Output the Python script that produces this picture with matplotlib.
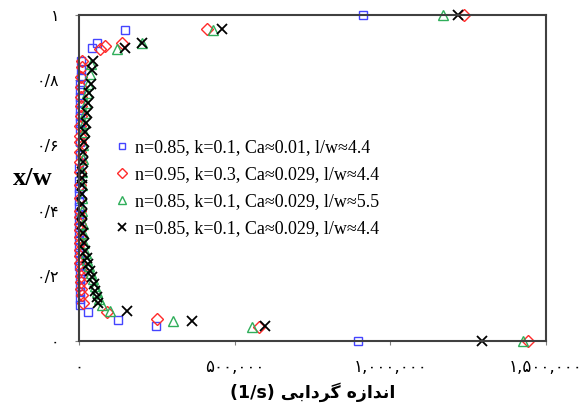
import numpy as np
import matplotlib
matplotlib.use('Agg')
import matplotlib.pyplot as plt
from matplotlib.lines import Line2D

# vortex size (1/s) vs x/w for four cases
blueX = [896000, 247000, 125000, 29000, 4000, 3000, 2500, 2000, 2500, 2000, 1500, 2000, 1500, 1500,
         1000, 1500, 1000, 1000, 1500, 1000, 1000, 1500, 1000, 1500, 1500, 2000, 2000, 2500, 2500,
         3000, 3000, 3500, 4000, 4000, 4500, 5000, 5000, 6000, 41700, 57800, 147750, 912000]
blueY = [0.0, 0.046, 0.064, 0.089, 0.11, 0.13, 0.15, 0.17, 0.19, 0.21, 0.23, 0.25, 0.27, 0.29,
         0.31, 0.33, 0.35, 0.37, 0.39, 0.41, 0.43, 0.45, 0.47, 0.49, 0.53, 0.57, 0.61, 0.65, 0.67,
         0.69, 0.71, 0.73, 0.75, 0.77, 0.79, 0.81, 0.83, 0.86, 0.90, 0.914, 0.954, 1.0]

redX = [1442000, 578000, 250000, 90000, 13000, 9000, 8000, 6500, 5500, 5000, 4500, 4000, 3500, 3500,
        3000, 3000, 3000, 2500, 2500, 3000, 3000, 3000, 3500, 3500, 4000, 4000, 4500, 5000, 5500,
        6000, 6500, 7000, 9000, 9000, 67500, 83500, 138000, 411000, 1237000]
redY = [0.0, 0.043, 0.067, 0.089, 0.117, 0.14, 0.16, 0.18, 0.2, 0.22, 0.24, 0.26, 0.28, 0.3,
        0.32, 0.34, 0.36, 0.38, 0.4, 0.44, 0.48, 0.52, 0.55, 0.58, 0.61, 0.63, 0.66, 0.69, 0.72,
        0.75, 0.78, 0.81, 0.84, 0.86, 0.896, 0.905, 0.914, 0.957, 1.0]

greenX = [1426000, 556000, 302000, 100000, 73000, 64000, 58000, 51000, 45000, 38000, 32000, 26000,
          21000, 17000, 14000, 12000, 11000, 10000, 10000, 11000, 12000, 13000, 15000, 17000, 20000,
          23000, 26000, 30000, 34000, 38000, 122000, 202000, 430000, 1169000]
greenY = [0.0, 0.043, 0.061, 0.092, 0.11, 0.13, 0.15, 0.17, 0.19, 0.21, 0.23, 0.25, 0.27, 0.3,
          0.33, 0.36, 0.4, 0.44, 0.48, 0.52, 0.56, 0.6, 0.64, 0.67, 0.7, 0.73, 0.76, 0.79, 0.82,
          0.85, 0.896, 0.914, 0.954, 1.0]

blackX = [1294000, 597000, 363000, 154000, 61000, 58000, 53000, 48000, 42000, 36000, 30000, 25000,
          20000, 16000, 13000, 11000, 10000, 9000, 9000, 9500, 10000, 11000, 12000, 14000, 16000,
          19000, 22000, 25000, 29000, 33000, 38000, 42000, 45000, 148000, 202000, 459000, 1217000]
blackY = [0.0, 0.046, 0.061, 0.092, 0.117, 0.135, 0.155, 0.175, 0.195, 0.215, 0.235, 0.255, 0.275,
          0.3, 0.33, 0.36, 0.39, 0.42, 0.45, 0.48, 0.5, 0.52, 0.55, 0.58, 0.61, 0.64, 0.67, 0.7,
          0.73, 0.76, 0.79, 0.83, 0.86, 0.90, 0.914, 0.957, 1.0]

labels = ['n=0.85, k=0.1, Ca\u22480.01, l/w\u22484.4',
          'n=0.95, k=0.3, Ca\u22480.029, l/w\u22484.4',
          'n=0.85, k=0.1, Ca\u22480.029, l/w\u22485.5',
          'n=0.85, k=0.1, Ca\u22480.029, l/w\u22484.4']

xTicks = [0, 500000, 1000000, 1500000]
xTickLabels = ['\u06f0', '\u06f5\u06f0\u06f0,\u06f0\u06f0\u06f0',
               '\u06f1,\u06f0\u06f0\u06f0,\u06f0\u06f0\u06f0',
               '\u06f1,\u06f5\u06f0\u06f0,\u06f0\u06f0\u06f0']
yTicks = [0, 0.2, 0.4, 0.6, 0.8, 1.0]
yTickLabels = ['\u06f0', '\u06f0/\u06f2', '\u06f0/\u06f4', '\u06f0/\u06f6', '\u06f0/\u06f8', '\u06f1']

# Persian label in visual order with presentation forms (no shaping in matplotlib)
xLabel = '(1/s) \ufbfd\ufe91\ufe8d\ufea9\ufeae\ufb94 \ufee9\ufeaf\ufe8d\ufeaa\ufee7\ufe8d'

fig = plt.figure(figsize=(5.83, 4.07), dpi=100)
ax = fig.add_axes([0.1355, 0.162, 0.801, 0.801])

kw = dict(linestyle='none', markerfacecolor='none', markeredgewidth=1.0, clip_on=False)
ax.plot(blueX, blueY, marker='s', markersize=6, markeredgecolor='#4444ff', **kw)
ax.plot(redX, redY, marker='D', markersize=6, markeredgecolor='#ff2a2a', **kw)
ax.plot(greenX, greenY, marker='^', markersize=7, markeredgecolor='#2fae5a', **kw)
ax.plot(blackX, blackY, marker='x', markersize=6.5, color='black', markeredgewidth=1.3,
        linestyle='none', clip_on=False)

ax.set_xlim(0, 1500000)
ax.set_ylim(0, 1)
ax.set_xticks(xTicks)
ax.set_xticklabels(xTickLabels, fontsize=12, family='DejaVu Sans')
ax.set_yticks(yTicks)
ax.set_yticklabels(yTickLabels, fontsize=11.5, family='DejaVu Sans')
ax.tick_params(axis='both', direction='out', length=3, color='#808080')
ax.tick_params(axis='x', pad=9)
ax.tick_params(axis='y', pad=11)

for s in ax.spines.values():
    s.set_color('#404040')
    s.set_linewidth(1.5)

ax.set_xlabel(xLabel, fontsize=12.5, fontweight='bold', family='DejaVu Sans', labelpad=5)
ax.set_ylabel('x/w', fontsize=19, fontweight='bold', family='Liberation Serif', rotation=0,
              va='center', ha='center')
ax.yaxis.set_label_coords(-0.1, 0.5)

handles = [
    Line2D([], [], marker='s', markersize=5, markerfacecolor='none', markeredgecolor='#4444ff', linestyle='none'),
    Line2D([], [], marker='D', markersize=5, markerfacecolor='none', markeredgecolor='#ff2a2a', linestyle='none'),
    Line2D([], [], marker='^', markersize=6, markerfacecolor='none', markeredgecolor='#2fae5a', linestyle='none'),
    Line2D([], [], marker='x', markersize=6, color='black', markeredgewidth=1.3, linestyle='none'),
]
ax.legend(handles, labels, loc='upper left', bbox_to_anchor=(0.182, 0.68), bbox_transform=fig.transFigure,
          frameon=False, borderpad=0, handlelength=0.8, handletextpad=0.3, labelspacing=0.55,
          prop={'family': 'Liberation Serif', 'size': 13})

fig.savefig('out.png', dpi=100)
